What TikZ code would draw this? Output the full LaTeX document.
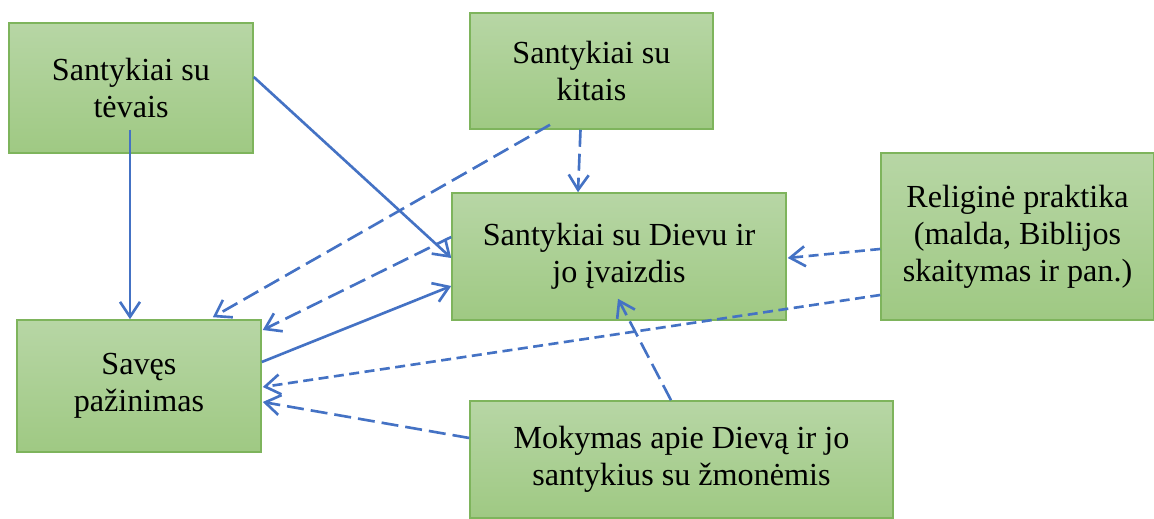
\documentclass[tikz,border=0pt]{standalone}
\usepackage{fontspec}
\setmainfont{Liberation Serif}
\usepackage{tikz}
\usetikzlibrary{arrows.meta, positioning, calc}

\definecolor{boxtop}{RGB}{183,214,165}
\definecolor{boxbot}{RGB}{159,201,131}
\definecolor{boxline}{RGB}{126,180,92}
\definecolor{linkblue}{RGB}{68,114,196}

\begin{document}
\begin{tikzpicture}[
  x=0.02cm, y=-0.02cm,
  box/.style={rectangle, draw=boxline, line width=0.9pt, top color=boxtop, bottom color=boxbot,
    align=center, inner sep=2pt, font=\fontsize{18.3}{21}\selectfont},
  link/.style={draw=linkblue, line width=1.5pt,
    -{Straight Barb[length=3mm, width=4mm]}},
  longdash/.style={link, dash pattern=on 0.34cm off 0.14cm},
  shortdash/.style={link, dash pattern=on 0.2cm off 0.11cm},
]
  \useasboundingbox (0,0) rectangle (1154,519);

  % Boxes
  \node[box, minimum width=4.88cm, minimum height=2.6cm] (tevai) at (131,88) {Santykiai su\\tėvais};
  \node[box, minimum width=4.86cm, minimum height=2.32cm] (kiti) at (591.5,71) {Santykiai su\\kitais};
  \node[box, minimum width=6.68cm, minimum height=2.54cm] (dievas) at (619,256.5) {Santykiai su Dievu ir\\jo įvaizdis};
  \node[box, minimum width=5.46cm, minimum height=3.34cm] (praktika) at (1017.5,236.5) {Religinė praktika\\(malda, Biblijos\\skaitymas ir pan.)};
  \node[box, minimum width=4.88cm, minimum height=2.64cm] (saves) at (139,386) {Savęs\\pažinimas};
  \node[box, minimum width=8.46cm, minimum height=2.34cm] (mokymas) at (681.5,459.5) {Mokymas apie Dievą ir jo\\santykius su žmonėmis};

  % Solid connections
  \draw[link] ($(tevai.south)+(-1,-24)$) -- ($(saves.north)+(-9,0)$);
  \draw[link] ($(tevai.east)+(0,-11)$) -- ($(dievas.west)+(0,1.5)$);
  \draw[link] ($(saves.east)+(0,-24)$) -- ($(dievas.west)+(0,29.5)$);

  % Long dashed connections
  \draw[longdash] ($(kiti.south)+(-41.5,-5)$) -- ($(saves.north east)+(-49,-2)$);
  \draw[longdash] ($(kiti.south)+(-11,0)$) -- ($(dievas.north)+(-41,0)$);
  \draw[longdash] ($(dievas.west)+(0,-19.5)$) -- ($(saves.east)+(1,-56)$);
  \draw[longdash] ($(mokymas.west)+(0,-21.5)$) -- ($(saves.east)+(1,16)$);
  \draw[longdash] ($(mokymas.north)+(-10.5,0)$) -- ($(dievas.south)+(-1,-22)$);

  % Short dashed connections
  \draw[shortdash] ($(praktika.west)+(0,12.5)$) -- ($(dievas.east)+(1,1.5)$);
  \draw[shortdash] ($(praktika.west)+(0,58.5)$) -- ($(saves.east)+(1,1)$);
\end{tikzpicture}
\end{document}
